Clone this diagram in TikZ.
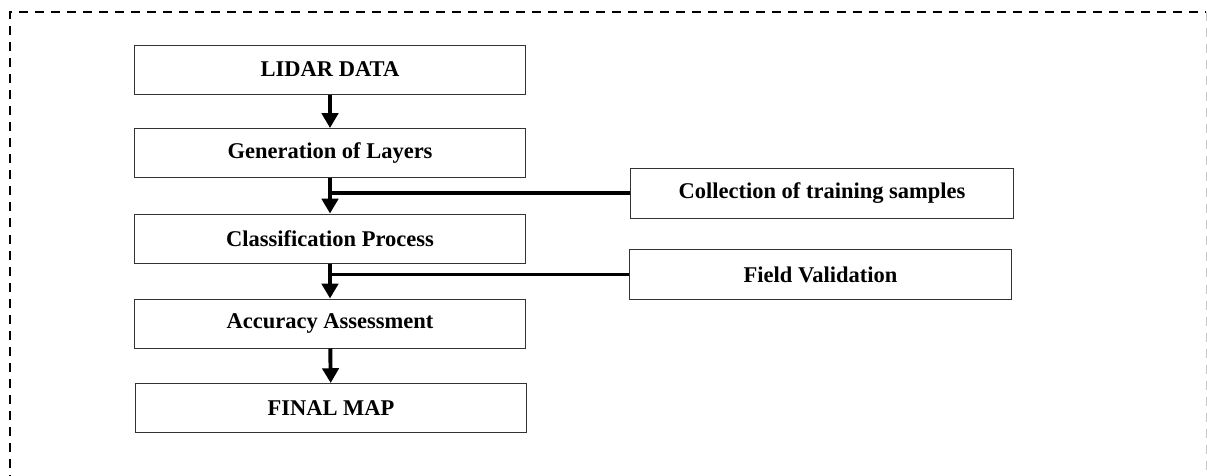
\documentclass[tikz,border=0pt]{standalone}
\usepackage{fontspec}
\setmainfont{Liberation Serif}
\usetikzlibrary{arrows.meta,positioning}
\definecolor{flowDark}  {gray}{0.00}
\definecolor{flowEdge}  {gray}{0.20}
\definecolor{flowFrame} {gray}{0.78}

\begin{document}
\begin{tikzpicture}[x=0.025cm, y=-0.025cm,
      stage/.style={draw=flowEdge, line width=0.7pt, inner sep=0pt,
                    minimum width=9.775cm, minimum height=1.225cm,
                    font=\fontsize{16}{19}\selectfont\bfseries},
      input/.style={stage, minimum width=9.55cm, minimum height=1.25cm},
      flow/.style={-{Triangle[length=10.5pt, width=11.5pt]},
                   line width=2.8pt, draw=flowDark},
      feed/.style={line width=2.8pt, draw=flowDark},
      frame/.style={line width=1.4pt, draw=flowDark,
                    dash pattern=on 6.4pt off 5pt}]
    \useasboundingbox (0,0) rectangle (1207,475);
    \clip (0,0) rectangle (1207,475);
    % outer dashed frame
    \draw[frame] (10,500) -- (10,12) -- (1206,12);
    \draw[frame, draw=flowFrame, line width=0.6pt] (1206,12) -- (1206,500);
    % main chain
    \node[stage] (lidar)    at (330,69.5)  {LIDAR DATA};
    \node[stage] (layers)   at (330,153)   {Generation of Layers};
    \node[stage] (classify) at (330,238.5) {Classification Process};
    \node[stage] (accuracy) at (330,323.5) {Accuracy Assessment};
    \node[stage] (finalmap) at (331,408)   {FINAL MAP};
    % side inputs
    \node[input] (samples)    at (822,193)   {Collection of training samples};
    \node[input] (validation) at (820.5,274.5) {Field Validation};
    \draw[flow] (lidar) -- (layers);
    \draw[flow] (layers) -- (classify);
    \draw[flow] (classify) -- (accuracy);
    \draw[flow] (accuracy) -- (finalmap);
    \draw[feed] (samples.west) -- (samples.west -| layers.south);
    \draw[feed] (validation.west) -- (validation.west -| classify.south);
\end{tikzpicture}
\end{document}
